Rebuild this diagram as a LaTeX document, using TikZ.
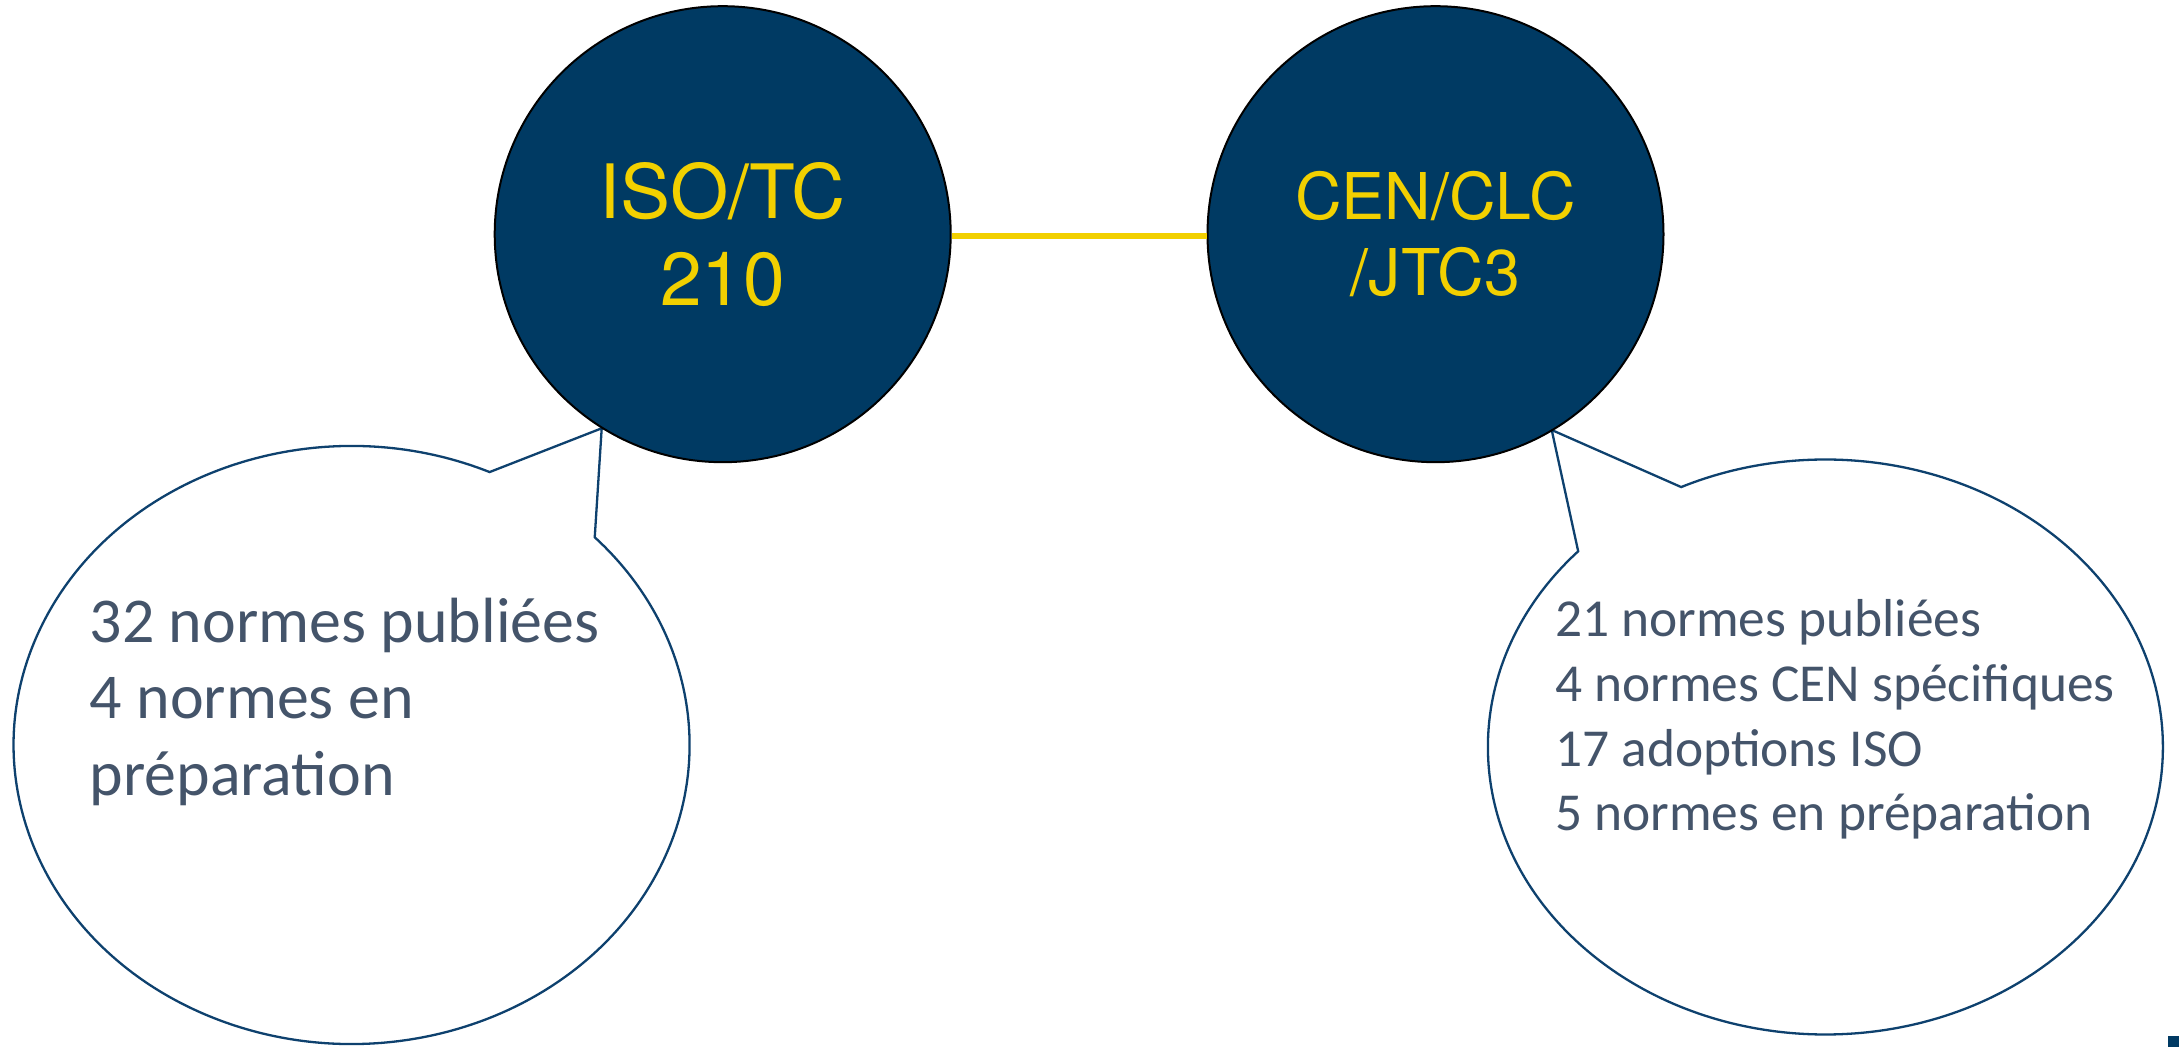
\documentclass[tikz,border=0pt]{standalone}
\usepackage{fontspec}
\setmainfont{Carlito}
\newfontfamily\heros{TeX Gyre Heros}
\definecolor{navy}{HTML}{003A63}
\definecolor{goldyellow}{HTML}{F2D000}
\definecolor{textgrey}{HTML}{44546A}
\definecolor{linenavy}{HTML}{0E416E}
\begin{document}
\begin{tikzpicture}[x=1pt,y=1pt,
  orb/.style={circle, draw=black, line width=2pt, fill=navy, minimum size=456pt,
    inner sep=0pt, text=goldyellow, align=center},
  bubble/.style={draw=linenavy, line width=2.3pt, fill=white, line join=miter},
  bubbletext/.style={anchor=north west, inner sep=0pt, align=left, text=textgrey},
  link/.style={draw=goldyellow, line width=6pt}]
\useasboundingbox (0,0) rectangle (2179,1047);
\coordinate (isotip) at (601.7,618.7);
\coordinate (centip) at (1551.7,617);
% callout bubbles
\draw[bubble] (351.6,302) ++(65.9:338 and 299)
  arc[start angle=65.9, end angle=404, x radius=338, y radius=299]
  -- (isotip) -- cycle;
\draw[bubble] (1825.4,300) ++(137.1:337.5 and 287.5)
  arc[start angle=137.1, end angle=475.3, x radius=337.5, y radius=287.5]
  -- (centip) -- cycle;
% circles
\node[orb, font=\heros\fontsize{75}{87}\selectfont] (iso) at (722.7,812.8) {ISO/TC\\210};
\node[orb, font=\heros\fontsize{64.5}{76}\selectfont] (cen) at (1435.5,812.8) {CEN/CLC\\/JTC3};
\draw[link] ([yshift=-1.5pt]iso.east) -- ([yshift=-1.5pt]cen.west);
% texts
\node[bubbletext, font=\fontsize{63.9}{76.5}\selectfont] (isotext) at (89.5,465)
  {\rule{0pt}{60pt}32 normes publiées\\4 normes en\\préparation};
\node[bubbletext, font=\fontsize{53.4}{64.7}\selectfont] (centext) at (1555,460.3)
  {\rule{0pt}{50pt}21 normes publiées\\4 normes CEN spécifiques\\17 adoptions ISO\\5 normes en préparation};
% corner mark
\fill[navy] (2168,0) rectangle (2179,11);
\end{tikzpicture}
\end{document}
